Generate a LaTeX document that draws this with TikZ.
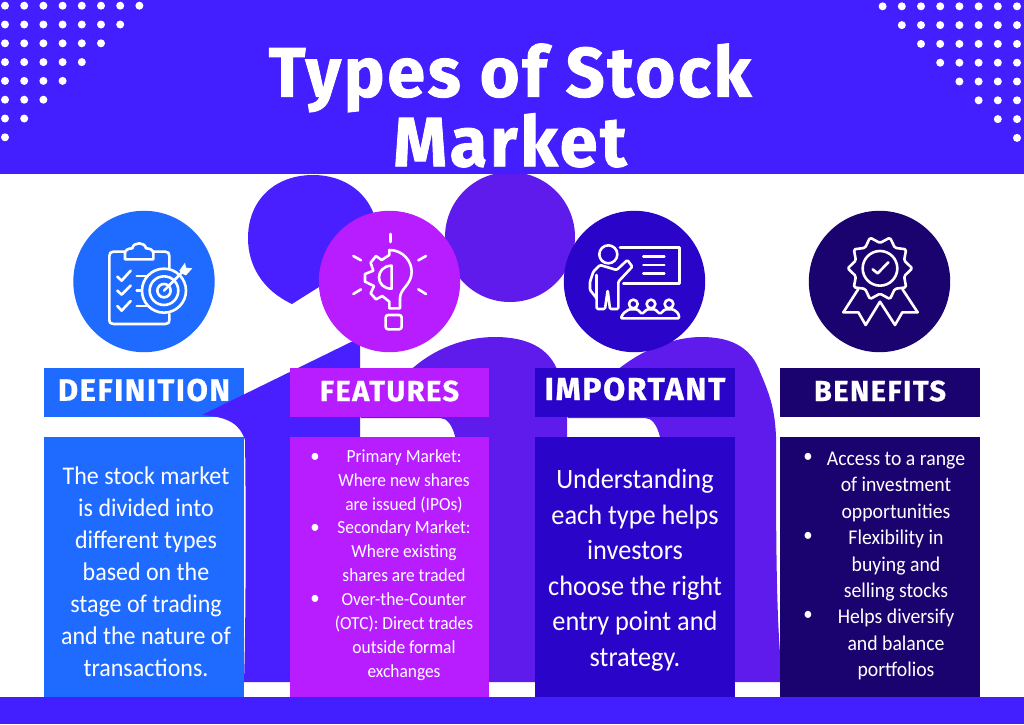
\documentclass[tikz,border=0pt]{standalone}
\usepackage{fontspec}
\setmainfont[FakeStretch=0.94]{Carlito}
\newfontfamily\titlefont[LetterSpace=4,FakeBold=1.2,FakeStretch=0.975]{Fira Sans}
\newfontfamily\headfont[LetterSpace=5,FakeBold=0.8]{Fira Sans}
\definecolor{band}{HTML}{431EFF}
\definecolor{bodyone}{HTML}{4A1FFF}
\definecolor{bodytwo}{HTML}{5F1BEB}
\definecolor{cblue}{HTML}{1F6BFF}
\definecolor{cpurple}{HTML}{B81DFF}
\definecolor{cindigo}{HTML}{2A04C8}
\definecolor{cnavy}{HTML}{1A036E}
\tikzset{
  icon/.style={draw=white,line width=2.6pt,line cap=round,line join=round},
  ic/.style={shift={(#1)},x=0.3333pt,y=-0.3333pt},
  headtext/.style={text=white,font=\headfont\bfseries\fontsize{#1}{30}\selectfont,inner sep=0pt},
  titletext/.style={text=white,font=\titlefont\bfseries\fontsize{70}{65}\selectfont,align=center,inner sep=0pt},
  bigtext/.style={text=white,font=\fontsize{25.5}{32}\selectfont,align=center,inner sep=0pt},
  hugetext/.style={text=white,font=\fontsize{28}{35.5}\selectfont,align=center,inner sep=0pt},
  smalltext/.style={text=white,font=\fontsize{18.5}{23.9}\selectfont,align=center,inner sep=0pt},
  midtext/.style={text=white,font=\fontsize{21}{26.4}\selectfont,align=center,inner sep=0pt},
  bullet/.style={text=white,font=\fontsize{20}{20}\selectfont,inner sep=0pt},
}
\begin{document}
\begin{tikzpicture}[x=1pt,y=-1pt]
\useasboundingbox (0,0) rectangle (1024,724);
\fill[white] (0,0) rectangle (1024,724);
\fill[cblue] (44,368) rectangle (244,417);
% heads and bodies behind
\fill[bodyone] (292,304) .. controls (262,290) and (248,265) .. (248,238)
  .. controls (248,200) and (275,175) .. (313,175)
  .. controls (350,175) and (378,200) .. (378,238) -- (330,280) -- cycle;
\fill[bodytwo] (510,237) circle[radius=65];
\fill[bodyone] (202,415) -- (351,342) -- (360,340) -- (360,682) -- (244,682)
  .. controls (246,620) and (246,500) .. (245,440)
  .. controls (240,425) and (230,417) .. (202,415) -- cycle;
\fill[bodytwo] (360,418) .. controls (378,405) and (395,380) .. (414,367)
  .. controls (440,345) and (470,337) .. (495,337)
  .. controls (530,337) and (548,350) .. (556,367)
  .. controls (562,385) and (567,400) .. (567,420) -- (570,682) -- (455,682) -- (455,436)
  .. controls (452,425) and (447,418) .. (440,418) -- cycle;
\fill[bodytwo] (567,418) .. controls (585,405) and (605,380) .. (621,367)
  .. controls (650,345) and (680,337) .. (701,337)
  .. controls (735,337) and (752,350) .. (760,372)
  .. controls (770,395) and (775,410) .. (776,437)
  .. controls (776,520) and (776,600) .. (780,653) -- (780,682) -- (660,682) -- (660,437)
  .. controls (657,425) and (652,418) .. (645,418) -- cycle;
% bands
\fill[band] (0,0) rectangle (1024,174);
\fill[band] (0,697) rectangle (1024,724);
\foreach \j in {0,...,7}{
  \pgfmathtruncatemacro{\last}{7-\j}
  \foreach \i in {0,...,\last}{
    \fill[white] ({5+19.2*\i},{5.7+18.8*\j}) circle[radius=4];
    \fill[white] ({1017-19.2*\i},{6.3+18.8*\j}) circle[radius=4];
  }
}
\node[titletext] (title) at (510,105.5) {Types of Stock\\Market};
% boxes
\fill[cpurple] (290,368) rectangle (489,417);
\fill[cindigo] (535,368) rectangle (735,417);
\fill[cnavy] (780,368) rectangle (980,417);
\fill[cblue] (44,436.5) rectangle (244,697);
\fill[cpurple] (290,436.5) rectangle (489,697);
\fill[cindigo] (535,436.5) rectangle (735,697);
\fill[cnavy] (780,436.5) rectangle (980,697);
% circles
\fill[cblue] (144,281.5) circle[radius=70.7];
\fill[cpurple] (389.5,281.5) circle[radius=70.7];
\fill[cindigo] (634.5,281.5) circle[radius=70.7];
\fill[cnavy] (879.5,281.5) circle[radius=70.7];
% headers
\node[headtext=31] (h1) at (144,390) {DEFINITION};
\node[headtext=29] (h2) at (389.5,391) {FEATURES};
\node[headtext=32] (h3) at (635,389) {IMPORTANT};
\node[headtext=29] (h4) at (880,391) {BENEFITS};
% body text
\node[bigtext] (t1) at (146,572) {The stock market\\is divided into\\different types\\based on the\\stage of trading\\and the nature of\\transactions.};
\node[smalltext] (t2) at (404,565) {Primary Market:\\Where new shares\\are issued (IPOs)\\Secondary Market:\\Where existing\\shares are traded\\Over-the-Counter\\(OTC): Direct trades\\outside formal\\exchanges};
\node[hugetext] (t3) at (635,570) {Understanding\\each type helps\\investors\\choose the right\\entry point and\\strategy.};
\node[midtext] (t4) at (896,566) {Access to a range\\of investment\\opportunities\\Flexibility in\\buying and\\selling stocks\\Helps diversify\\and balance\\portfolios};
\node[bullet] (b1) at (315,458) {•};
\node[bullet] (b2) at (315,529) {•};
\node[bullet] (b3) at (315,600) {•};
\node[bullet] (b4) at (808,458) {•};
\node[bullet] (b5) at (808,537) {•};
\node[bullet] (b6) at (808,616) {•};
% icon 1: clipboard and target
\begin{scope}[ic={60,200}]
  \draw[icon] (195,155) -- (160,155) .. controls (152,155) and (148,160) .. (148,168) -- (148,358)
    .. controls (148,368) and (152,372) .. (160,372) -- (316,372) .. controls (325,372) and (328,368) .. (328,358) -- (328,342);
  \draw[icon] (280,155) -- (316,155) .. controls (325,155) and (328,160) .. (328,168) -- (328,205);
  \draw[icon] (195,178) -- (195,160) .. controls (195,150) and (205,145) .. (217,145)
    .. controls (220,125) and (255,125) .. (258,145) .. controls (270,145) and (280,150) .. (280,160) -- (280,178) -- cycle;
  \draw[icon] (172,230) -- (185,242) -- (212,212);
  \draw[icon] (172,272) -- (185,284) -- (212,257);
  \draw[icon] (172,318) -- (185,332) -- (212,303);
  \draw[icon] (230,228) -- (260,228);
  \draw[icon] (230,272) -- (243,272);
  \draw[icon] (230,318) -- (260,318);
  \draw[icon] (312,272) circle[radius=66];
  \draw[icon] (312,272) circle[radius=43];
  \draw[icon] (312,272) circle[radius=20];
  \draw[icon] (312,272) -- (368,215);
  \fill[white] (358,212) -- (375,188) -- (378,203) -- (397,205) -- (378,226) -- (368,222) -- cycle;
\end{scope}
% icon 2: bulb and gear
\begin{scope}[ic={310,200}]
  \draw[icon] (241,102) -- (241,126);
  \draw[icon] (130,168) -- (153,181);
  \draw[icon] (348,168) -- (325,181);
  \draw[icon] (130,282) -- (153,268);
  \draw[icon] (348,282) -- (325,268);
  \draw[icon] (238,150) .. controls (280,150) and (305,185) .. (305,215)
    .. controls (305,255) and (270,265) .. (270,295) -- (270,325) -- (238,325) -- (238,305)
    -- (217,288) -- (198,298) -- (182,280) -- (192,258) -- (165,245) -- (165,222) -- (190,212)
    -- (182,188) -- (198,168) -- (215,180) -- (238,165) -- cycle;
  \draw[icon] (245,197) .. controls (220,197) and (207,215) .. (207,232)
    .. controls (207,250) and (220,266) .. (245,266) -- cycle;
  \draw[icon,rounded corners=2.5pt] (227,345) rectangle (275,388);
\end{scope}
% icon 3: teacher
\begin{scope}[ic={555,210}]
  \draw[icon] (160,133) circle[radius=27];
  \draw[icon] (195,112) -- (373,112) -- (373,220) -- (205,220);
  \draw[icon] (265,140) -- (328,140);
  \draw[icon] (265,165) -- (328,165);
  \draw[icon] (265,190) -- (328,190);
  \draw[icon,rounded corners=1.2pt] (135,165) -- (115,185) -- (105,215) -- (105,240) -- (125,265) -- (125,297) -- (150,297)
    -- (158,240) -- (165,297) -- (190,297) -- (190,215) -- (232,170) -- (217,150) -- (185,180) -- cycle;
  \draw[icon] (125,195) -- (125,265);
  \draw[icon] (235,282) circle[radius=13];
  \draw[icon] (288,282) circle[radius=13];
  \draw[icon] (342,282) circle[radius=13];
  \draw[icon,rounded corners=1.2pt] (197,325) -- (373,325) -- (370,310) -- (355,298) -- (330,298) -- (315,312) -- (300,298) -- (276,298) -- (261,312) -- (247,298) -- (222,298) -- (205,310) -- cycle;
\end{scope}
% icon 4: badge
\begin{scope}[ic={800,210}]
  \draw[icon,rounded corners=1.5pt] plot[samples at={0,18,...,342},variable=\t]
    ({240+(mod(round(\t/18),2)==0?97:76)*cos(\t)},{175+(mod(round(\t/18),2)==0?97:76)*sin(\t)}) -- cycle;
  \draw[icon] (240,175) circle[radius=52];
  \draw[icon] (218,178) -- (233,190) -- (265,157);
  \draw[icon] (175,237) -- (130,307) -- (175,307) -- (197,345) -- (240,275) -- (285,345) -- (307,307) -- (353,307) -- (307,237);
\end{scope}
\end{tikzpicture}
\end{document}
